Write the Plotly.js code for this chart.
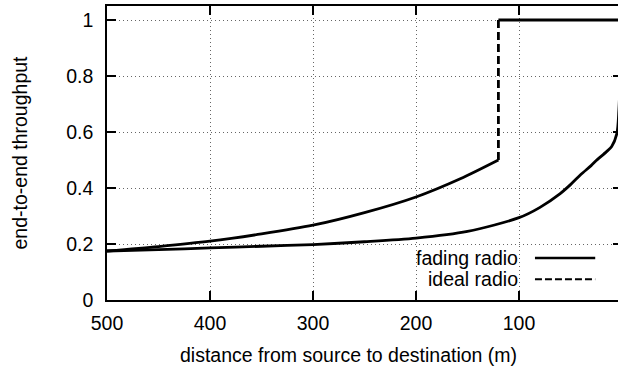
<!DOCTYPE html>
<html>
<head>
<meta charset="utf-8">
<script src="https://cdn.plot.ly/plotly-3.0.1.min.js"></script>
<style>
html,body{margin:0;padding:0;overflow:hidden;background:#fff;}
#chart{width:626px;height:370px;}
</style>
</head>
<body>
<div id="chart"></div>
<script>
// fading radio (lower curve)
const fadingDistance = [500, 450, 400, 350, 300, 250, 200, 150, 100, 80, 60, 50, 40, 30, 25, 15, 10, 5, 3, 0];
const fadingThroughput = [0.175, 0.180, 0.186, 0.192, 0.198, 0.208, 0.221, 0.245, 0.294, 0.330, 0.380, 0.412, 0.448, 0.480, 0.498, 0.530, 0.548, 0.594, 0.680, 1.0];

// ideal radio (upper curve with jump at 120 m)
const idealDistance = [500, 450, 400, 350, 300, 250, 200, 157, 120, 120, 0];
const idealThroughput = [0.175, 0.191, 0.210, 0.236, 0.267, 0.312, 0.368, 0.433, 0.500, 1.0, 1.0];

const xTicks = [500, 400, 300, 200, 100, 0];
const yTicks = [0, 0.2, 0.4, 0.6, 0.8, 1];
const legendLabels = ['fading radio', 'ideal radio'];
const xTitle = 'distance from source to destination (m)';
const yTitle = 'end-to-end throughput';

const FONT = 'Liberation Sans, Arial, Helvetica, sans-serif';
const FS = 19.5;
const LW = 2.8;

// split ideal curve at the vertical jump
let j = 0;
for (let i = 0; i < idealDistance.length - 1; i++) {
  if (idealDistance[i] === idealDistance[i + 1]) { j = i; break; }
}

const traces = [
  {x: fadingDistance, y: fadingThroughput, mode: 'lines', name: legendLabels[0],
   line: {color: '#000', width: LW, shape: 'spline', smoothing: 0.8}, hoverinfo: 'skip'},
  {x: idealDistance.slice(0, j + 1), y: idealThroughput.slice(0, j + 1), mode: 'lines',
   line: {color: '#000', width: LW, shape: 'spline', smoothing: 0.8}, hoverinfo: 'skip'},
  {x: idealDistance.slice(j, j + 2), y: idealThroughput.slice(j, j + 2), mode: 'lines', name: legendLabels[1],
   line: {color: '#000', width: LW, dash: '8px,4px'}, hoverinfo: 'skip'},
  {x: idealDistance.slice(j + 1), y: idealThroughput.slice(j + 1), mode: 'lines',
   line: {color: '#000', width: LW}, hoverinfo: 'skip'}
];

const axisCommon = {
  showline: true, linecolor: '#000', linewidth: 1.8, mirror: 'ticks',
  ticks: 'inside', ticklen: 9, tickwidth: 1.4, tickcolor: '#000',
  showgrid: true, gridcolor: '#666', griddash: '1px,3px', gridwidth: 1,
  zeroline: false, tickfont: {family: FONT, size: FS, color: '#000'}
};

const layout = {
  width: 626, height: 370,
  margin: {l: 107, r: 4, t: 6, b: 70},
  paper_bgcolor: '#fff', plot_bgcolor: '#fff',
  showlegend: false,
  xaxis: Object.assign({}, axisCommon, {
    range: [500, 0], tickmode: 'array', tickvals: xTicks, ticktext: xTicks.map(String),
    ticklabelstandoff: 5
  }),
  yaxis: Object.assign({}, axisCommon, {
    range: [0, 1.05], tickmode: 'array', tickvals: yTicks, ticktext: yTicks.map(String),
    ticklabelstandoff: 8,
    title: {text: yTitle, font: {family: FONT, size: FS, color: '#000'}, standoff: 33}
  }),
  annotations: [
    {xref: 'paper', yref: 'paper', x: 0.468, y: -0.187, xanchor: 'center', yanchor: 'middle',
     text: xTitle, showarrow: false, font: {family: FONT, size: FS, color: '#000'}},
    {xref: 'paper', yref: 'paper', x: 0.802, y: 0.143, xanchor: 'right', yanchor: 'middle',
     text: legendLabels[0], showarrow: false, font: {family: FONT, size: FS, color: '#000'}},
    {xref: 'paper', yref: 'paper', x: 0.802, y: 0.071, xanchor: 'right', yanchor: 'middle',
     text: legendLabels[1], showarrow: false, font: {family: FONT, size: FS, color: '#000'}}
  ],
  shapes: [
    {type: 'line', xref: 'paper', yref: 'paper', x0: 0.831, x1: 0.948, y0: 0.143, y1: 0.143,
     line: {color: '#000', width: LW - 0.4}},
    {type: 'line', xref: 'paper', yref: 'paper', x0: 0.831, x1: 0.948, y0: 0.071, y1: 0.071,
     line: {color: '#000', width: LW - 0.8, dash: '7px,3px'}}
  ]
};

Plotly.newPlot('chart', traces, layout, {staticPlot: true, displayModeBar: false});
</script>
</body>
</html>
